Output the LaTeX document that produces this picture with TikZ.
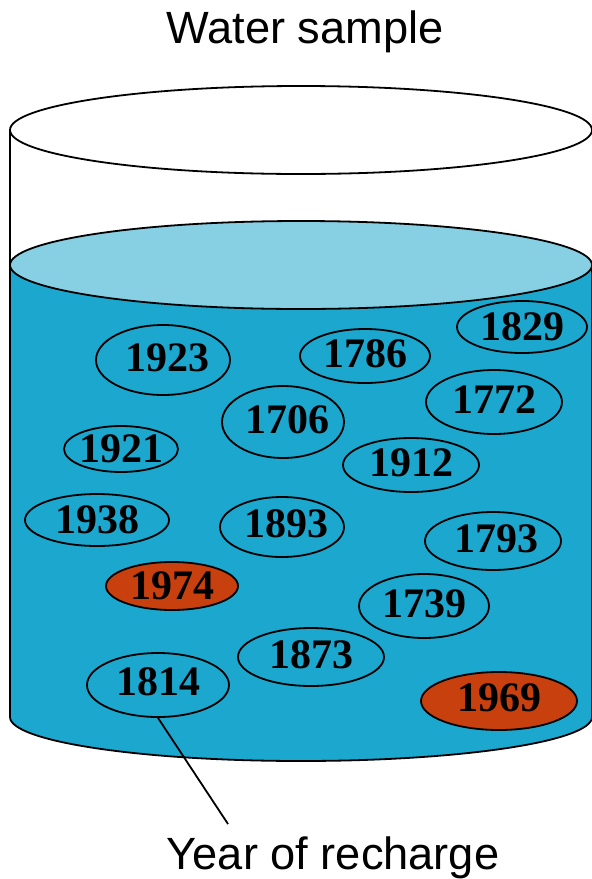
\documentclass[tikz,border=0pt]{standalone}
\usepackage{fontspec}
\setmainfont{Liberation Serif}
\setsansfont{Liberation Sans}
\usetikzlibrary{shapes.geometric}
\definecolor{waterblue}{HTML}{1CA7CE}
\definecolor{surfaceblue}{HTML}{87D0E4}
\definecolor{youngorange}{HTML}{C8400E}
\newcommand\yr[2][0pt]{\makebox[0pt]{\hspace*{#1}#2}}
\tikzset{
  year/.style={draw=black, line width=1.8pt, ellipse, inner sep=0pt, font=\fontsize{42}{42}\selectfont\bfseries},
  young/.style={year, fill=youngorange},
  caption/.style={font=\fontsize{45.2}{46}\selectfont\sffamily}
}
\begin{document}
\begin{tikzpicture}[x=1pt, y=-1pt, line width=1.8pt]
  \useasboundingbox (0,0) rectangle (592,879);
  % glass and water body
  \fill[waterblue] (10,265) -- (10,717) arc[start angle=180, end angle=0, x radius=291, y radius=44] -- (592,265) -- cycle;
  \draw (10,265) -- (10,717) arc[start angle=180, end angle=0, x radius=291, y radius=44] -- (592,265);
  \draw (10,130) -- (10,265);
  \draw[fill=surfaceblue] (301,265) ellipse[x radius=291, y radius=44];
  \draw[fill=white] (301,130) ellipse[x radius=291, y radius=44];
  % years
  \node[year, minimum width=134, minimum height=70, text depth=5pt] (y1923) at (163,360) {\yr[8pt]{1923}};
  \node[year, minimum width=130, minimum height=54, text depth=5pt] (y1786) at (365,356) {\yr{1786}};
  \node[year, minimum width=130, minimum height=52] (y1829) at (522,327) {\yr{1829}};
  \node[year, minimum width=136, minimum height=64, text depth=5pt] (y1772) at (494,402) {\yr{1772}};
  \node[year, minimum width=122, minimum height=72, text depth=5pt] (y1706) at (283,422) {\yr[9pt]{1706}};
  \node[year, minimum width=136, minimum height=54, text depth=5pt] (y1912) at (411,465) {\yr{1912}};
  \node[year, minimum width=114, minimum height=46] (y1921) at (121,449) {\yr{1921}};
  \node[year, minimum width=144, minimum height=52] (y1938) at (97,520) {\yr{1938}};
  \node[year, minimum width=124, minimum height=60, text depth=7pt] (y1893) at (282,527) {\yr[8pt]{1893}};
  \node[year, minimum width=136, minimum height=58, text depth=5pt] (y1793) at (493,541) {\yr[6pt]{1793}};
  \node[young, minimum width=132, minimum height=48] (y1974) at (172,586) {\yr{1974}};
  \node[year, minimum width=130, minimum height=64, text depth=5pt] (y1739) at (424,606) {\yr{1739}};
  \node[year, minimum width=146, minimum height=58, text depth=5pt] (y1873) at (311,657) {\yr{1873}};
  \node[year, minimum width=142, minimum height=64, text depth=7pt] (y1814) at (158,685) {\yr{1814}};
  \node[young, minimum width=156, minimum height=58, text depth=7pt] (y1969) at (499,701) {\yr{1969}};
  % labels
  \node[caption] (sample) at (305,32) {Water sample};
  \node[caption] (recharge) at (333,858) {Year of recharge};
  \coordinate (pointer) at (228,824);
  \draw (y1814.south) -- (pointer);
\end{tikzpicture}
\end{document}
